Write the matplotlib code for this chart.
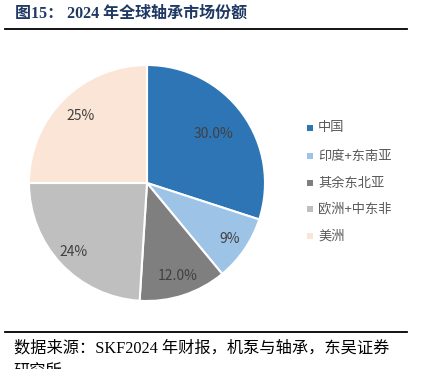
import numpy as np
import matplotlib.pyplot as plt

# --- data ---
regions = ['中国', '印度+东南亚', '其余东北亚', '欧洲+中东非', '美洲']
shares = [30.0, 9, 12.0, 24, 25]
share_labels = ['30.0%', '9%', '12.0%', '24%', '25%']
colors = ['#2e75b6', '#9dc3e6', '#7f7f7f', '#bfbfbf', '#fbe5d6']
label_dist = [0.70, 0.85, 0.83, 0.86, 0.80]

plt.rcParams['font.family'] = ['Noto Sans CJK SC', 'DejaVu Sans']

fig = plt.figure(figsize=(4.25, 3.69), dpi=100)
W, H = 425, 369

# title + rules
serif_cjk = ['Liberation Serif', 'Noto Sans CJK SC']
fig.text(15 / W, 1 - 14 / H, '图15： 2024 年全球轴承市场份额', family=serif_cjk,
         fontsize=11.5, fontweight='bold', color='#1f3864', va='center', ha='left')
fig.add_artist(plt.Line2D([5 / W, 407 / W], [1 - 29 / H, 1 - 29 / H], color='black', lw=1.3))
fig.add_artist(plt.Line2D([5 / W, 407 / W], [1 - 332 / H, 1 - 332 / H], color='black', lw=1.3))
fig.text(14 / W, 1 - 348 / H, '数据来源：SKF2024 年财报，机泵与轴承，东吴证券', family=serif_cjk,
         fontsize=11.7, color='black', va='center', ha='left')
fig.text(14 / W, 1 - 373 / H, '研究所', family=serif_cjk,
         fontsize=11.7, color='black', va='center', ha='left')

# pie
cx, cy, r = 147, 183, 118
ax = fig.add_axes([(cx - r) / W, 1 - (cy + r) / H, 2 * r / W, 2 * r / H])
wedges, _ = ax.pie(shares, colors=colors, startangle=90, counterclock=False,
                   wedgeprops=dict(edgecolor='white', linewidth=1.5))
ax.set_xlim(-1, 1)
ax.set_ylim(-1, 1)
ax.set_aspect('equal')
for w, lab, d in zip(wedges, share_labels, label_dist):
    ang = np.deg2rad((w.theta1 + w.theta2) / 2)
    ax.text(d * np.cos(ang), d * np.sin(ang), lab, ha='center', va='center',
            fontsize=10, color='#404040')

# legend
ys = [128, 156, 183, 209, 236]
for name, col, y in zip(regions, colors, ys):
    fig.patches.append(plt.Rectangle((307 / W, 1 - (y + 3) / H), 6 / W, 6 / H,
                                     transform=fig.transFigure, facecolor=col,
                                     edgecolor='none'))
    fig.text(318 / W, 1 - y / H, name, fontsize=9.5, color='#595959', va='center', ha='left')

fig.savefig('out.png', dpi=100)
